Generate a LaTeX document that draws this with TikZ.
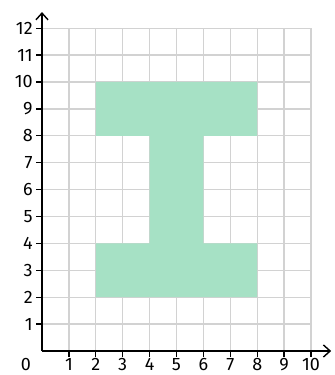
\documentclass[tikz,border=0pt]{standalone}
\usepackage{fontspec}
\setmainfont{Fira Sans}
\usetikzlibrary{arrows.meta}
\definecolor{beam}{HTML}{A6E1C5}
\definecolor{gridgray}{HTML}{D2D2D2}
\begin{document}
\begin{tikzpicture}[x=1cm,y=1cm,font=\fontsize{19}{22}\selectfont]
  \tikzstyle{gridline}=[gridgray, line width=1.4pt]
  \tikzstyle{axis}=[black, line width=1.5pt]
  \tikzstyle{tick}=[black, line width=1.3pt]
  \tikzstyle{num}=[inner sep=0pt]
  \useasboundingbox (-1.561,-0.892) rectangle (10.855,13.048);
  \draw[gridline] (0,0) grid (10,12);
  \fill[beam] (2,2) -- (8,2) -- (8,4) -- (6,4) -- (6,8) -- (8,8)
    -- (8,10) -- (2,10) -- (2,8) -- (4,8) -- (4,4) -- (2,4) -- cycle;
  \coordinate (O) at (0,0);
  \coordinate (xend) at (10.75,0);
  \coordinate (yend) at (0,12.6);
  \draw[axis,-{Straight Barb[length=2.5mm,width=4.5mm]}] (O) -- (xend);
  \draw[axis,-{Straight Barb[length=2.5mm,width=4.5mm]}] (O) -- (yend);
  \node[num] (lab-0) at (-0.6,-0.5) {0};
  \foreach \i in {1,...,10} {
    \coordinate (xt-\i) at (\i,0);
    \draw[tick] (xt-\i) -- ++(0,-0.22);
    \node[num] (xl-\i) at (\i,-0.5) {\i};
  }
  \foreach \j in {1,...,12} {
    \coordinate (yt-\j) at (0,\j);
    \draw[tick] (yt-\j) -- ++(-0.22,0);
    \node[num, anchor=east] (yl-\j) at (-0.34,\j) {\j};
  }
\end{tikzpicture}
\end{document}
